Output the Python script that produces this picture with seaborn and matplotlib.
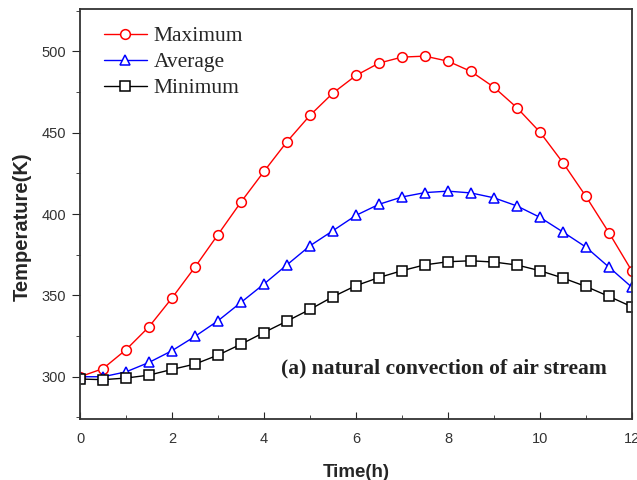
import matplotlib
matplotlib.use("Agg")
import matplotlib.pyplot as plt
import seaborn as sns
import pandas as pd
from matplotlib.ticker import MultipleLocator

# data
time_h = [0, 0.5, 1, 1.5, 2, 2.5, 3, 3.5, 4, 4.5, 5, 5.5, 6, 6.5, 7, 7.5, 8,
          8.5, 9, 9.5, 10, 10.5, 11, 11.5, 12]
t_max = [300, 305, 316.6, 330.7, 348.4, 367.4, 387.4, 407.4, 426.2, 444.5, 460.7,
         474.4, 485.2, 492.8, 496.5, 497.1, 494, 487.7, 478, 465.4, 450.4,
         431.6, 410.9, 388.6, 365]
t_avg = [300, 300, 303, 308.8, 316, 324.8, 334.4, 345.7, 357, 368.8, 380.5,
         389.8, 399.2, 406, 410.5, 413.2, 414.1, 413, 410, 405, 398, 389,
         379.7, 367.4, 355]
t_min = [298.6, 298.2, 299.2, 301, 304.5, 307.8, 313.3, 320, 327.2, 334.2, 341.4,
         349.2, 356, 361, 365.2, 368.8, 370.7, 371.3, 370.5, 368.7, 365.2,
         360.7, 355.5, 349.4, 343]

series = ["Maximum", "Average", "Minimum"]
colors = ["red", "blue", "black"]
markers = ["o", "^", "s"]

sns.set_style("ticks")
plt.rcParams["font.family"] = ["Liberation Sans", "DejaVu Sans"]

fig = plt.figure(figsize=(6.37, 4.8), dpi=100)
ax = fig.add_axes([0.1256, 0.127, 0.8664, 0.854])

for name, vals, c, m in zip(series, [t_max, t_avg, t_min], colors, markers):
    df = pd.DataFrame({"Time": time_h, "T": vals})
    sns.lineplot(data=df, x="Time", y="T", ax=ax, color=c, marker=m, label=name,
                 linewidth=1, markersize=7, markerfacecolor="white",
                 markeredgecolor=c, markeredgewidth=1.1)

ax.set_xlim(0, 12)
ax.set_ylim(274, 526)
ax.xaxis.set_major_locator(MultipleLocator(2))
ax.xaxis.set_minor_locator(MultipleLocator(1))
ax.yaxis.set_major_locator(MultipleLocator(50))
ax.yaxis.set_minor_locator(MultipleLocator(25))
ax.tick_params(axis="x", which="both", direction="in", labelsize=10.5,
               labelcolor="#333333", pad=9)
ax.tick_params(axis="x", which="major", length=5)
ax.tick_params(axis="x", which="minor", length=3)
ax.tick_params(axis="y", which="both", direction="out", labelsize=10.5,
               labelcolor="#333333", pad=4)
ax.tick_params(axis="y", which="major", length=6)
ax.tick_params(axis="y", which="minor", length=3)
for sp in ax.spines.values():
    sp.set_visible(True)
    sp.set_linewidth(1.3)
    sp.set_color("#333333")

ax.set_xlabel("Time(h)", fontsize=13.5, fontweight="bold", labelpad=13)
ax.set_ylabel("Temperature(K)", fontsize=14.5, fontweight="bold")
ax.yaxis.set_label_coords(-0.087, 0.47)

leg = ax.legend(loc="upper left", bbox_to_anchor=(0.016, 0.995), frameon=False,
                prop={"family": "Liberation Serif", "size": 15.5},
                handlelength=2.0, handletextpad=0.3, labelspacing=0.27,
                borderpad=0.2)

ax.text(0.955, 0.123, "(a) natural convection of air stream", transform=ax.transAxes,
        ha="right", va="center", fontsize=15.5, fontweight="bold",
        family="Liberation Serif", color="#222222")

fig.savefig("out.png", dpi=100)
